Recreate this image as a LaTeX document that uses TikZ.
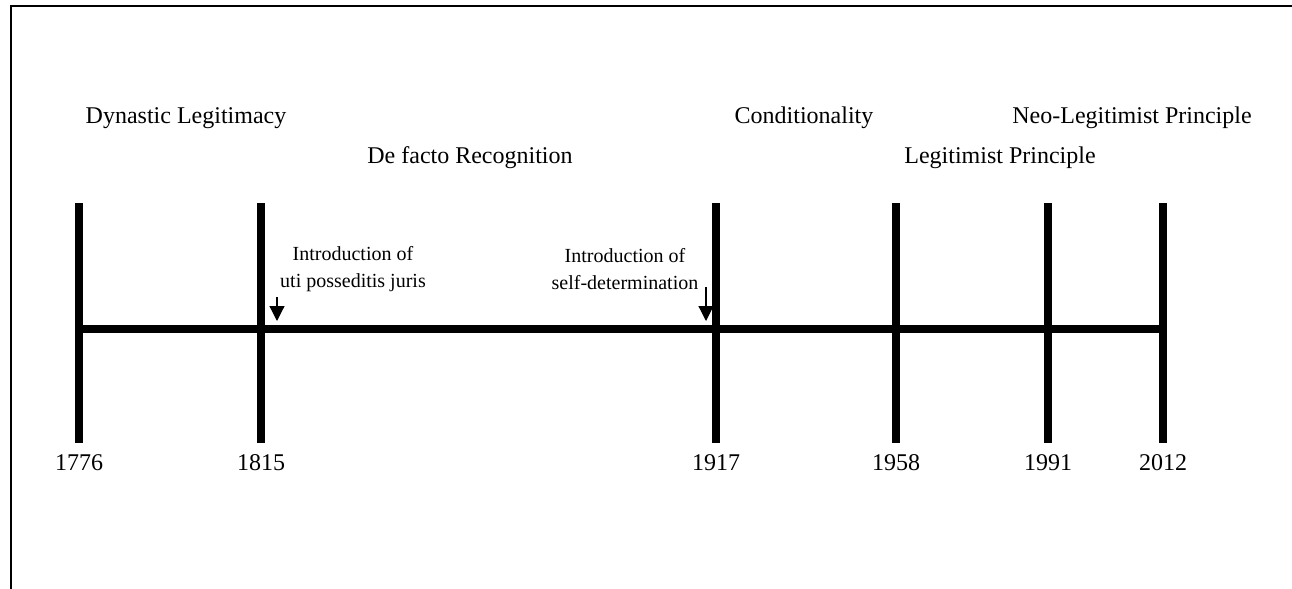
\documentclass[tikz,border=0pt]{standalone}
\usepackage{fontspec}
\setmainfont{Liberation Serif}
\usetikzlibrary{arrows.meta,positioning}

\begin{document}
\begin{tikzpicture}[
    x=0.5pt,y=-0.5pt,
    bar/.style={line width=4pt},
    era/.style={font=\fontsize{12}{14}\selectfont},
    yr/.style={font=\fontsize{12}{14}\selectfont},
    note/.style={font=\fontsize{10}{13.5}\selectfont,align=center},
    pointer/.style={-{Triangle[width=7.5pt,length=7.5pt]},line width=0.6pt}
]
\useasboundingbox (0,0) rectangle (1292,589);
% frame (cut at right and bottom)
\draw[line width=1pt] (11,589) -- (11,6) -- (1292,6);

% year bars with labels
\foreach \yr/\x in {1776/79,1815/261,1917/716,1958/896,1991/1048,2012/1163}{
  \coordinate (T\yr) at (\x,203);
  \coordinate (B\yr) at (\x,443);
  \coordinate (M\yr) at (\x,329);
  \draw[bar] (T\yr) -- (B\yr);
  \node[yr] (L\yr) at (\x,463) {\yr};
}

% timeline
\draw[bar] (M1776) -- (M2012);

% eras
\node[era] (dyn) at (186,118) {Dynastic Legitimacy};
\node[era] (defacto) at (470,158) {De facto Recognition};
\node[era] (cond) at (804,118) {Conditionality};
\node[era] (legit) at (1000,158) {Legitimist Principle};
\node[era] (neo) at (1132,118) {Neo-Legitimist Principle};

% introductions
\node[note] (uti) at (353,269) {Introduction of\\uti posseditis juris};
\node[note] (self) at (625,269) {Introduction of\\self-determination};
\coordinate (uti1) at (277,297);
\coordinate (uti2) at (277,321);
\coordinate (self1) at (706,287);
\coordinate (self2) at (706,321);
\draw[pointer] (uti1) -- (uti2);
\draw[pointer] (self1) -- (self2);
\end{tikzpicture}
\end{document}
